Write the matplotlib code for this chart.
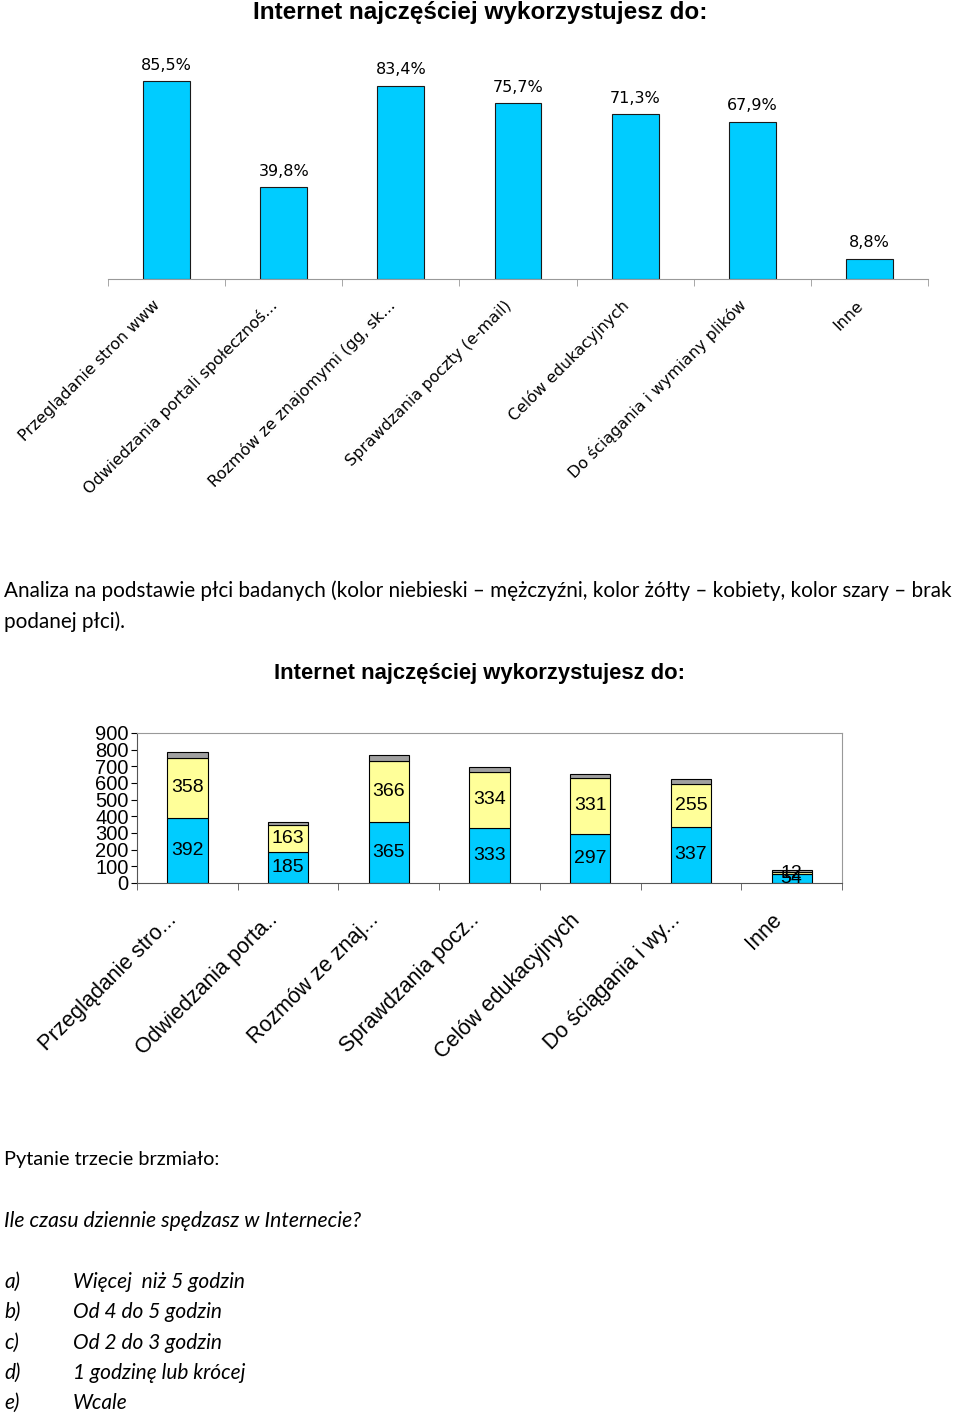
import numpy as np
import matplotlib
matplotlib.use("Agg")
import matplotlib.pyplot as plt
from matplotlib.transforms import ScaledTranslation

# chart 1 - percentages
kat1 = ["Przeglądanie stron www", "Odwiedzania portali społecznoś...",
        "Rozmów ze znajomymi (gg, sk...", "Sprawdzania poczty (e-mail)",
        "Celów edukacyjnych", "Do ściągania i wymiany plików", "Inne"]
procenty = [85.5, 39.8, 83.4, 75.7, 71.3, 67.9, 8.8]

# chart 2 - by gender
kat2 = ["Przeglądanie stro...", "Odwiedzania porta..", "Rozmów ze znaj...",
        "Sprawdzania pocz..", "Celów edukacyjnych", "Do ściągania i wy...", "Inne"]
mezczyzni = [392, 185, 365, 333, 297, 337, 54]
kobiety = [358, 163, 366, 334, 331, 255, 12]
brak = [36, 18, 35, 29, 27, 32, 15]

tytul = "Internet najczęściej wykorzystujesz do:"
opis1 = "Analiza na podstawie płci badanych (kolor niebieski \u2013 mężczyźni, kolor żółty \u2013 kobiety, kolor szary \u2013 brak"
opis2 = "podanej płci)."
pytanie = "Pytanie trzecie brzmiało:"
pytanie2 = "Ile czasu dziennie spędzasz w Internecie?"
litery = ["a)", "b)", "c)", "d)", "e)"]
odpowiedzi = ["Więcej  niż 5 godzin", "Od 4 do 5 godzin", "Od 2 do 3 godzin",
              "1 godzinę lub krócej", "Wcale"]

W, H = 960, 1414
fig = plt.figure(figsize=(W / 100, H / 100), dpi=100)
fig.patch.set_facecolor("white")


def fx(px):
    return px / W


def fy(py):
    return 1 - py / H


def przesun(labels, dx, dy):
    # shift tick labels by pixels (dx right, dy up)
    for lab in labels:
        lab.set_transform(lab.get_transform() +
                          ScaledTranslation(dx / 100, dy / 100, fig.dpi_scale_trans))


BLUE = "#00CCFF"
YELLOW = "#FFFF99"
GREY = "#A0A0A0"
text_font = ["Lato", "DejaVu Sans"]

# ---------- chart 1 ----------
ax1 = fig.add_axes([fx(108), fy(279), fx(928 - 108), (279 - 40) / H])
x = np.arange(len(kat1))
ax1.bar(x, procenty, width=0.4, color=BLUE, edgecolor="#1a1a1a", linewidth=0.8)
for xi, v in zip(x, procenty):
    ax1.text(xi, v + 3.5, f"{v:.1f}%".replace(".", ","), ha="center", va="bottom",
             fontsize=11.5, family="DejaVu Sans")
ax1.set_xlim(-0.5, len(kat1) - 0.5)
ax1.set_ylim(0, (279 - 40) / 2.319)
for s in ["top", "right", "left"]:
    ax1.spines[s].set_visible(False)
ax1.spines["bottom"].set_color("#999999")
ax1.set_yticks([])
ax1.set_xticks(x)
lab1 = ax1.set_xticklabels(kat1, rotation=45, ha="right", va="top", rotation_mode="anchor",
                           fontsize=11.4, family="DejaVu Sans")
ax1.tick_params(axis="x", length=0, pad=22)
przesun(lab1, -14, 12)
ax1.set_xticks(np.arange(len(kat1) + 1) - 0.5, minor=True)
ax1.tick_params(axis="x", which="minor", length=5, color="#999999")

fig.text(0.5, fy(12), tytul, ha="center", va="center", fontsize=17.5,
         fontweight="bold", family="Liberation Sans")

# ---------- text between ----------
fig.text(fx(4), fy(591), opis1, ha="left", va="center", fontsize=14.9, family=text_font)
fig.text(fx(4), fy(622), opis2, ha="left", va="center", fontsize=14.9, family=text_font)

fig.text(fx(480), fy(674), tytul, ha="center", va="center", fontsize=15.8,
         fontweight="bold", family="Liberation Sans")

# ---------- chart 2 ----------
ax2 = fig.add_axes([fx(137), fy(883), fx(842 - 137), (883 - 733) / H])
x2 = np.arange(len(kat2))
m = np.array(mezczyzni)
k = np.array(kobiety)
b = np.array(brak)
ax2.bar(x2, m, width=0.4, color=BLUE, edgecolor="black", linewidth=0.8)
ax2.bar(x2, k, width=0.4, bottom=m, color=YELLOW, edgecolor="black", linewidth=0.8)
ax2.bar(x2, b, width=0.4, bottom=m + k, color=GREY, edgecolor="black", linewidth=0.8)
for xi in x2:
    ax2.text(xi, m[xi] / 2, str(m[xi]), ha="center", va="center", fontsize=14,
             family="Liberation Sans")
    ax2.text(xi, m[xi] + k[xi] / 2, str(k[xi]), ha="center", va="center", fontsize=14,
             family="Liberation Sans")
ax2.set_xlim(-0.5, len(kat2) - 0.5)
ax2.set_ylim(0, 900)
ax2.set_yticks(range(0, 901, 100))
ax2.tick_params(axis="y", labelsize=14.5, length=4, pad=2)
for lab in ax2.get_yticklabels():
    lab.set_family("Liberation Sans")
for s in ["top", "right"]:
    ax2.spines[s].set_color("#999999")
ax2.spines["left"].set_color("#555555")
ax2.spines["bottom"].set_color("#555555")
ax2.set_xticks(x2)
lab2 = ax2.set_xticklabels(kat2, rotation=45, ha="right", va="top", rotation_mode="anchor",
                           fontsize=15.5, family="Liberation Sans")
ax2.tick_params(axis="x", length=0, pad=30)
przesun(lab2, -21, 15)
ax2.set_xticks(np.arange(len(kat2) + 1) - 0.5, minor=True)
ax2.tick_params(axis="x", which="minor", length=5, color="#555555")

# ---------- bottom text ----------
fig.text(fx(4), fy(1160), pytanie, ha="left", va="center", fontsize=14.3, family=text_font)
fig.text(fx(4), fy(1221), pytanie2, ha="left", va="center", fontsize=15.2,
         family=text_font, style="italic")
for i, (l, o) in enumerate(zip(litery, odpowiedzi)):
    yy = 1282 + i * 30.3
    fig.text(fx(4), fy(yy), l, ha="left", va="center", fontsize=15,
             family=text_font, style="italic")
    fig.text(fx(73), fy(yy), o, ha="left", va="center", fontsize=15,
             family=text_font, style="italic")

fig.savefig("out.png", dpi=100, facecolor="white")
